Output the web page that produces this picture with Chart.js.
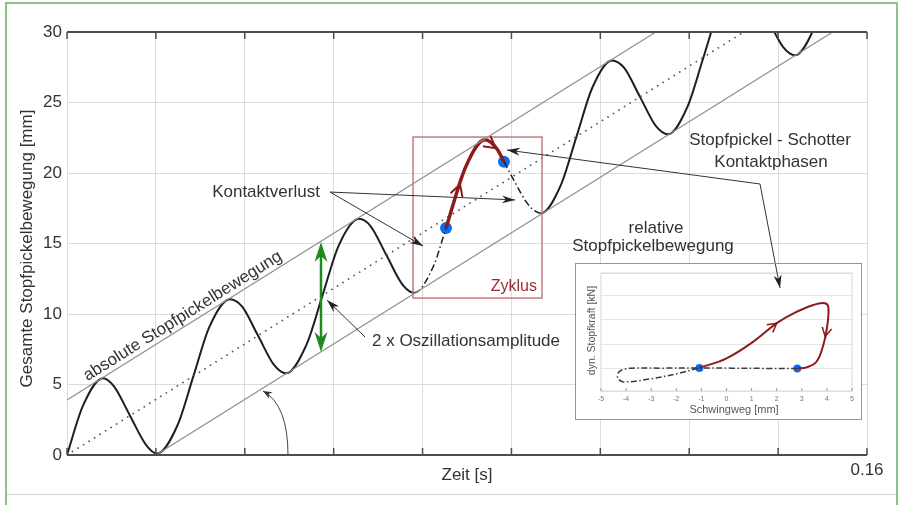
<!DOCTYPE html>
<html><head><meta charset="utf-8">
<script src="https://cdn.jsdelivr.net/npm/chart.js@4.4.1/dist/chart.umd.min.js"></script>
<style>
html,body{margin:0;padding:0;background:#fff;width:898px;height:505px;overflow:hidden}
#main{position:absolute;left:0;top:0}
#insetBox{position:absolute;left:575px;top:263px;width:285px;height:155px;border:1px solid #c47f7f;background:#fff}
#inset{position:absolute;left:0;top:0}
.fl{position:absolute;background:#8cc487}
</style></head><body>
<div class="fl" style="left:5px;top:2px;width:2px;height:503px"></div>
<div class="fl" style="left:5px;top:2px;width:893px;height:2px"></div>
<div class="fl" style="left:896px;top:2px;width:2px;height:503px"></div>
<div style="position:absolute;left:7px;top:494px;width:889px;height:1px;background:#cfcfcf"></div>
<canvas id="main" width="898" height="505"></canvas>
<div id="insetBox"><canvas id="inset" width="285" height="155"></canvas></div>
<script>
// ================= DATA =================
// Gesamte Stopfpickelbewegung over time
const timeS = [0, 0.0032, 0.0072, 0.0094, 0.0126, 0.0158, 0.018, 0.0221, 0.0253, 0.0285, 0.0326, 0.035, 0.0382, 0.0414, 0.0438, 0.0479, 0.0511, 0.0543, 0.0584, 0.0607, 0.0639, 0.0671, 0.0694, 0.0733, 0.0758, 0.0797, 0.0836, 0.086, 0.0874, 0.0892, 0.0924, 0.0948, 0.0987, 0.1019, 0.1051, 0.109, 0.1114, 0.1146, 0.1178, 0.1202, 0.1241, 0.1273, 0.1305, 0.1344, 0.1368, 0.14, 0.1432, 0.1456, 0.1495, 0.1527, 0.1559, 0.16];
const posMm = [0, 3.5, 5.45, 4.87, 2.79, 0.72, 0.1, 2.11, 5.61, 9.1, 11.05, 10.54, 8.47, 6.39, 5.8, 7.83, 11.32, 14.82, 16.75, 16.24, 14.16, 12.08, 11.5, 13.4, 16.1, 20.4, 22.35, 21.7, 20.8, 19.6, 17.69, 17.15, 19.09, 22.58, 26.08, 27.98, 27.47, 25.4, 23.32, 22.75, 24.71, 28.21, 31.71, 33.6, 33.1, 31.02, 28.95, 28.35, 30.34, 33.84, 37.33, 39.2];
// mean and envelope lines (absolute Stopfpickelbewegung)
const meanT = [0, 0.16],  meanMm = [0, 35.46];
const upperT = [0, 0.16], upperMm = [3.9, 39.36];
const lowerT = [0, 0.16], lowerMm = [-3.94, 31.52];
// contact phase points
const contactT = [0.0758, 0.0874], contactMm = [16.1, 20.8];
const lossStartT = 0.0694, lossEndT = 0.0948;
// axis ticks
const xTickValues = [0, 0.017778, 0.035556, 0.053333, 0.071111, 0.088889, 0.106667, 0.124444, 0.142222, 0.16];
const xTickLabels = ['', '', '', '', '', '', '', '', '', '0.16'];
const yTickValues = [0, 5, 10, 15, 20, 25, 30];
// inset: force vs displacement
const forceLoopX = [-1.08, 0.0, 1.07, 2.0, 2.67, 3.46, 3.92, 4.06, 4.0, 3.86, 3.59, 3.19, 2.82];
const forceLoopY = [0.04, 0.43, 1.11, 1.86, 2.26, 2.6, 2.67, 2.49, 1.65, 0.98, 0.3, 0.06, 0.02];
const freeLoopX = [2.82, 1.5, 0.2, -1.08, -2.5, -3.9, -4.28, -4.33, -4.1, -3.0, -1.9, -1.08];
const freeLoopY = [0.02, 0.02, 0.03, 0.04, 0.03, 0.02, -0.12, -0.38, -0.53, -0.4, -0.18, 0.04];
const insetDotX = [-1.08, 2.82], insetDotY = [0.04, 0.02];
const insetXTicks = [-5, -4, -3, -2, -1, 0, 1, 2, 3, 4, 5];
const insetXTickLabels = ['-5', '-4', '-3', '-2', '-1', '0', '1', '2', '3', '4', '5'];
const insetYGrid = [-0.9, 0, 1, 2, 3, 3.9];

// ================= ANNOTATION ANCHORS (data units) =================
const ann = {
  kontakt: {text: 'Kontaktverlust', at: [0.0398, 18.65], from: [0.0526, 18.65], tips: [[0.0712, 14.82], [0.0896, 18.09]]},
  osz: {text: '2 x Oszillationsamplitude', at: [0.061, 8.09], from: [0.0596, 8.37], tip: [0.052, 10.99]},
  amp: {t: 0.0508, y0: 7.3, y1: 15.1},
  abs: {text: 'absolute Stopfpickelbewegung', t: 0.0242},
  arc: {from: [0.0442, 0], ctrl: [0.0442, 3.55], to: [0.0392, 4.54]},
  zyklus: {t0: 0.0692, t1: 0.095, y0: 11.13, y1: 22.55, text: 'Zyklus', at: [0.094, 11.91]},
  phasen: {lines: [['Stopfpickel - Schotter', 0.1406, 22.34], ['Kontaktphasen', 0.1408, 20.78]], junction: [0.1386, 19.22], tip1: [0.088, 21.63], tip2: [0.1426, 11.84]},
  relativ: {lines: [['relative', 0.1178, 16.1], ['Stopfpickelbewegung', 0.1172, 14.82]]},
  chevrons: [[24, 0.72], [26, 0.9]],
  insetChevrons: [[2, 1.0], [8, 0.5]]
};

const F = '"Liberation Sans", Arial, Helvetica, sans-serif';
const BLACK = '#1e1e1e', RED = '#8c1c1c', TXT = '#333';
const pts = (xs, ys) => xs.map((v, i) => ({x: v, y: ys[i]}));
const inSeg = (c, a, b) => c.p0.parsed.x >= a - 1e-9 && c.p1.parsed.x <= b + 1e-9;
const isContact = c => inSeg(c, contactT[0], contactT[1]);
const isLoss = c => inSeg(c, lossStartT, contactT[0]) || inSeg(c, contactT[1], lossEndT);

function stealth(ctx, x1, y1, x2, y2, len, half, color) {
  const a = Math.atan2(y2 - y1, x2 - x1), c = Math.cos(a), s = Math.sin(a);
  ctx.beginPath();
  ctx.moveTo(x2, y2);
  ctx.lineTo(x2 - len * c + half * s, y2 - len * s - half * c);
  ctx.lineTo(x2 - len * 0.7 * c, y2 - len * 0.7 * s);
  ctx.lineTo(x2 - len * c - half * s, y2 - len * s + half * c);
  ctx.closePath();
  ctx.fillStyle = color; ctx.fill();
}
function seg(ctx, x1, y1, x2, y2) { ctx.beginPath(); ctx.moveTo(x1, y1); ctx.lineTo(x2, y2); ctx.stroke(); }
function chevron(ctx, x, y, ang, len, spread, color, w) {
  ctx.beginPath();
  ctx.moveTo(x - len * Math.cos(ang - spread), y - len * Math.sin(ang - spread));
  ctx.lineTo(x, y);
  ctx.lineTo(x - len * Math.cos(ang + spread), y - len * Math.sin(ang + spread));
  ctx.strokeStyle = color; ctx.lineWidth = w; ctx.stroke();
}

const mainPlugin = {
  id: 'mainAnn',
  afterDatasetsDraw(chart) {
    const {ctx, chartArea: a, scales: {x, y}} = chart;
    const X = t => x.getPixelForValue(t), Y = v => y.getPixelForValue(v);
    ctx.save();
    // dark top / bottom frame with inner ticks
    ctx.strokeStyle = '#4d4d4d'; ctx.lineWidth = 2;
    seg(ctx, a.left, a.top, a.right, a.top);
    seg(ctx, a.left, a.bottom, a.right, a.bottom);
    ctx.lineWidth = 1.5;
    x.ticks.forEach(tk => { const px = X(tk.value); seg(ctx, px, a.top, px, a.top + 7); seg(ctx, px, a.bottom, px, a.bottom - 7); });

    // axis titles
    ctx.fillStyle = TXT; ctx.font = '17px ' + F; ctx.textAlign = 'center'; ctx.textBaseline = 'middle';
    ctx.fillText('Zeit [s]', (a.left + a.right) / 2, a.bottom + 20);
    ctx.save(); ctx.translate(27, (a.top + a.bottom) / 2 + 5); ctx.rotate(-Math.PI / 2);
    ctx.fillText('Gesamte Stopfpickelbewegung [mm]', 0, 0); ctx.restore();

    // absolute Stopfpickelbewegung label along upper line
    const p1 = {x: X(upperT[0]), y: Y(upperMm[0])}, p2 = {x: X(upperT[1]), y: Y(upperMm[1])};
    const ang = Math.atan2(p2.y - p1.y, p2.x - p1.x);
    const tl = ann.abs.t, mmL = upperMm[0] + (upperMm[1] - upperMm[0]) * (tl - upperT[0]) / (upperT[1] - upperT[0]);
    ctx.save(); ctx.translate(X(tl), Y(mmL)); ctx.rotate(ang);
    ctx.textBaseline = 'alphabetic'; ctx.fillText(ann.abs.text, 0, -5); ctx.restore();

    // angle arc
    ctx.strokeStyle = '#444'; ctx.lineWidth = 1;
    const af = ann.arc;
    ctx.beginPath(); ctx.moveTo(X(af.from[0]), Y(af.from[1]));
    ctx.quadraticCurveTo(X(af.ctrl[0]), Y(af.ctrl[1]), X(af.to[0]), Y(af.to[1])); ctx.stroke();
    stealth(ctx, X(af.ctrl[0]), Y(af.ctrl[1]), X(af.to[0]), Y(af.to[1]), 9, 3.5, '#333');

    // Zyklus box
    const z = ann.zyklus;
    ctx.strokeStyle = '#c27c7c'; ctx.lineWidth = 1.5;
    ctx.strokeRect(X(z.t0), Y(z.y1), X(z.t1) - X(z.t0), Y(z.y0) - Y(z.y1));
    ctx.fillStyle = '#9b2d30'; ctx.font = '16px ' + F; ctx.textAlign = 'right'; ctx.textBaseline = 'middle';
    ctx.fillText(z.text, X(z.at[0]), Y(z.at[1]));

    // Kontaktverlust
    ctx.fillStyle = TXT; ctx.font = '17px ' + F; ctx.textAlign = 'center';
    const k = ann.kontakt;
    ctx.fillText(k.text, X(k.at[0]), Y(k.at[1]));
    ctx.strokeStyle = '#333'; ctx.lineWidth = 1;
    k.tips.forEach(tp => {
      seg(ctx, X(k.from[0]), Y(k.from[1]), X(tp[0]), Y(tp[1]));
      stealth(ctx, X(k.from[0]), Y(k.from[1]), X(tp[0]), Y(tp[1]), 13, 4, '#222');
    });

    // Oszillationsamplitude
    const o = ann.osz;
    ctx.textAlign = 'left'; ctx.fillStyle = TXT;
    ctx.fillText(o.text, X(o.at[0]), Y(o.at[1]));
    seg(ctx, X(o.from[0]), Y(o.from[1]), X(o.tip[0]), Y(o.tip[1]));
    stealth(ctx, X(o.from[0]), Y(o.from[1]), X(o.tip[0]), Y(o.tip[1]), 13, 4, '#222');

    // green double arrow
    const g = ann.amp, gx = X(g.t), gy0 = Y(g.y0), gy1 = Y(g.y1);
    ctx.strokeStyle = '#1f8a1f'; ctx.lineWidth = 2.5;
    seg(ctx, gx, gy0 - 12, gx, gy1 + 12);
    stealth(ctx, gx, gy1 + 20, gx, gy1, 20, 6.5, '#1f8a1f');
    stealth(ctx, gx, gy0 - 20, gx, gy0, 20, 6.5, '#1f8a1f');

    // Kontaktphasen
    ctx.fillStyle = TXT; ctx.textAlign = 'center';
    ann.phasen.lines.forEach(l => ctx.fillText(l[0], X(l[1]), Y(l[2])));
    ann.relativ.lines.forEach(l => ctx.fillText(l[0], X(l[1]), Y(l[2])));
    const ph = ann.phasen, jx = X(ph.junction[0]), jy = Y(ph.junction[1]);
    ctx.strokeStyle = '#333'; ctx.lineWidth = 1;
    seg(ctx, jx, jy, X(ph.tip1[0]), Y(ph.tip1[1]));
    stealth(ctx, jx, jy, X(ph.tip1[0]), Y(ph.tip1[1]), 13, 4, '#222');
    seg(ctx, jx, jy, X(ph.tip2[0]), Y(ph.tip2[1]));

    // red chevrons along contact curve
    const meta = chart.getDatasetMeta(3).data;
    ann.chevrons.forEach(([i, f]) => {
      const A = meta[i], B = meta[i + 1];
      const cx = A.x + (B.x - A.x) * f, cy = A.y + (B.y - A.y) * f;
      chevron(ctx, cx, cy, Math.atan2(B.y - A.y, B.x - A.x), 13, 0.5, RED, 2);
    });
    ctx.restore();
  }
};

const mainChart = new Chart(document.getElementById('main'), {
  type: 'scatter',
  data: {datasets: [
    {data: pts(upperT, upperMm), showLine: true, borderColor: '#8f8f8f', borderWidth: 1.2, pointRadius: 0},
    {data: pts(lowerT, lowerMm), showLine: true, borderColor: '#8f8f8f', borderWidth: 1.2, pointRadius: 0},
    {data: pts(meanT, meanMm), showLine: true, borderColor: '#555', borderWidth: 1.8, borderDash: [0.01, 6.5], borderCapStyle: 'round', pointRadius: 0},
    {data: pts(timeS, posMm), showLine: true, borderColor: BLACK, borderWidth: 2, pointRadius: 0, cubicInterpolationMode: 'monotone',
      segment: {
        borderColor: c => isContact(c) ? RED : undefined,
        borderWidth: c => isContact(c) ? 3.5 : (isLoss(c) ? 1.5 : undefined),
        borderDash: c => isLoss(c) ? [7, 3, 1.5, 3] : undefined
      }},
    {data: pts(timeS, posMm), showLine: true, borderColor: 'rgba(0,0,0,0)', borderWidth: 1, pointRadius: 0, cubicInterpolationMode: 'monotone',
      segment: {borderColor: c => isContact(c) ? '#2a0505' : undefined}},
    {data: pts(contactT, contactMm), showLine: false, pointRadius: 6, pointBackgroundColor: '#0b6ef2', pointBorderWidth: 0}
  ]},
  options: {
    responsive: false, animation: false, devicePixelRatio: 1,
    layout: {padding: {left: 0, top: 32, right: 31, bottom: 0}},
    plugins: {legend: {display: false}, tooltip: {enabled: false}},
    scales: {
      x: {type: 'linear', min: 0, max: 0.16,
        afterBuildTicks: s => { s.ticks = xTickValues.map(v => ({value: v})); },
        afterFit: s => { s.height = 50; },
        ticks: {callback: (v, i) => xTickLabels[i], font: {size: 17, family: F}, color: TXT, padding: 5, maxRotation: 0, autoSkip: false},
        grid: {color: '#dcdcdc', lineWidth: 1, drawTicks: false}, border: {display: false}},
      y: {type: 'linear', min: 0, max: 30,
        afterBuildTicks: s => { s.ticks = yTickValues.map(v => ({value: v})); },
        afterFit: s => { s.width = 67; },
        ticks: {font: {size: 17, family: F}, color: TXT, padding: 5},
        grid: {color: '#dcdcdc', lineWidth: 1, drawTicks: false}, border: {display: false}}
    }
  },
  plugins: [mainPlugin]
});

const INSET_LEFT = 576, INSET_TOP = 264;
const insetPlugin = {
  id: 'insetAnn',
  afterDatasetsDraw(chart) {
    const {ctx, chartArea: a, scales: {x, y}} = chart;
    ctx.save();
    ctx.strokeStyle = '#d6d6d6'; ctx.lineWidth = 1;
    ctx.strokeRect(a.left, a.top, a.right - a.left, a.bottom - a.top);
    ctx.strokeStyle = '#999';
    ctx.fillStyle = '#777'; ctx.font = '7px ' + F; ctx.textAlign = 'center'; ctx.textBaseline = 'middle';
    insetXTicks.forEach((v, i) => {
      const px = x.getPixelForValue(v);
      seg(ctx, px, a.bottom, px, a.bottom - 3);
      ctx.fillText(insetXTickLabels[i], px, a.bottom + 8);
    });
    ctx.fillStyle = '#555';
    ctx.font = '11px ' + F;
    ctx.fillText('Schwingweg [mm]', x.getPixelForValue(0.3), a.bottom + 19);
    ctx.save(); ctx.translate(16, y.getPixelForValue(1.56)); ctx.rotate(-Math.PI / 2);
    ctx.font = '10.5px ' + F; ctx.fillText('dyn. Stopfkraft [kN]', 0, 0); ctx.restore();
    // chevrons on force loop
    const meta = chart.getDatasetMeta(1).data;
    ann.insetChevrons.forEach(([i, f]) => {
      const A = meta[i], B = meta[i + 1];
      const cx = A.x + (B.x - A.x) * f, cy = A.y + (B.y - A.y) * f;
      chevron(ctx, cx, cy, Math.atan2(B.y - A.y, B.x - A.x), 10, 0.5, RED, 1.5);
    });
    // arrow coming from the main chart annotation
    const mx = mainChart.scales.x, my = mainChart.scales.y, ph = ann.phasen;
    const jx = mx.getPixelForValue(ph.junction[0]) - INSET_LEFT, jy = my.getPixelForValue(ph.junction[1]) - INSET_TOP;
    const tx = mx.getPixelForValue(ph.tip2[0]) - INSET_LEFT, ty = my.getPixelForValue(ph.tip2[1]) - INSET_TOP;
    ctx.strokeStyle = '#333'; ctx.lineWidth = 1;
    seg(ctx, jx, jy, tx, ty);
    stealth(ctx, jx, jy, tx, ty, 13, 4, '#222');
    ctx.restore();
  }
};

new Chart(document.getElementById('inset'), {
  type: 'scatter',
  data: {datasets: [
    {data: pts(freeLoopX, freeLoopY), showLine: true, borderColor: '#3a3a3a', borderWidth: 1.5, borderDash: [6, 2.5, 1.5, 2.5], tension: 0.35, pointRadius: 0},
    {data: pts(forceLoopX, forceLoopY), showLine: true, borderColor: RED, borderWidth: 2, tension: 0.4, pointRadius: 0},
    {data: pts(insetDotX, insetDotY), showLine: false, pointRadius: 4, pointBackgroundColor: '#0b6ef2', pointBorderWidth: 0}
  ]},
  options: {
    responsive: false, animation: false, devicePixelRatio: 1,
    layout: {padding: {left: 0, top: 9, right: 9, bottom: 0}},
    plugins: {legend: {display: false}, tooltip: {enabled: false}},
    scales: {
      x: {type: 'linear', min: -5, max: 5,
        afterBuildTicks: s => { s.ticks = insetXTicks.map(v => ({value: v})); },
        afterFit: s => { s.height = 28; },
        ticks: {display: false},
        grid: {display: false}, border: {display: false}},
      y: {type: 'linear', min: -0.9, max: 3.9,
        afterBuildTicks: s => { s.ticks = insetYGrid.map(v => ({value: v})); },
        afterFit: s => { s.width = 25; },
        ticks: {display: false},
        grid: {color: '#e6e6e6', drawTicks: false}, border: {display: false}}
    }
  },
  plugins: [insetPlugin]
});
</script>
</body></html>
